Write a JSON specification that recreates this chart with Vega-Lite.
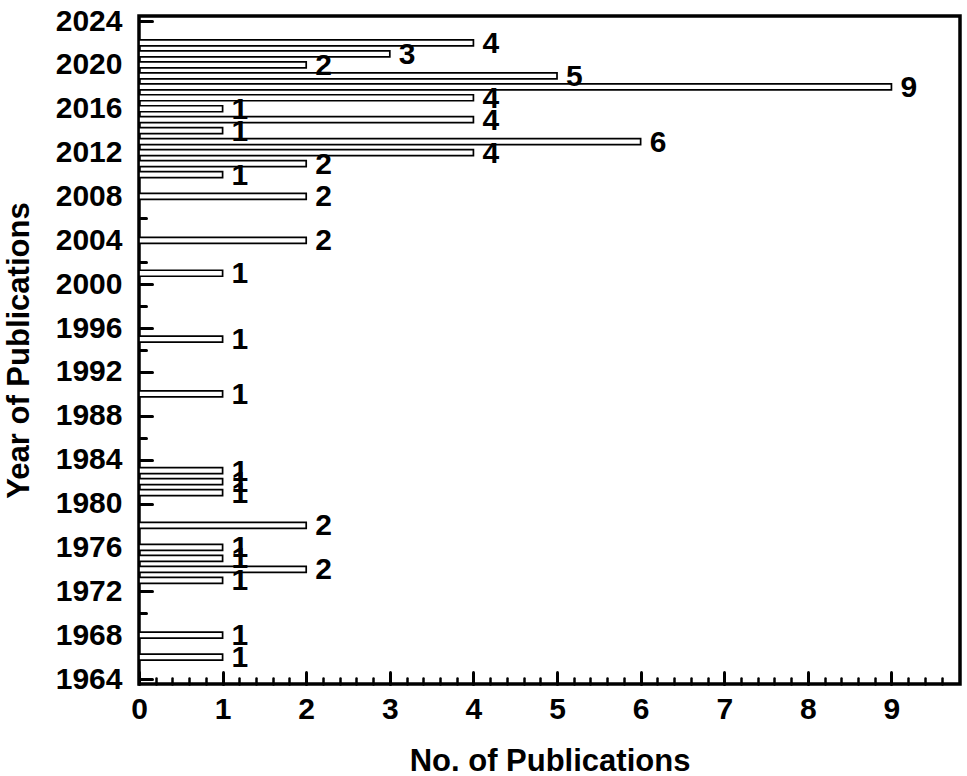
{
  "$schema": "https://vega.github.io/schema/vega-lite/v6.json",
  "autosize": "none",
  "width": 821,
  "height": 668,
  "padding": {"left": 139, "top": 16, "right": 7, "bottom": 92},
  "background": "white",
  "config": {
    "view": {"stroke": "black", "strokeWidth": 3.5},
    "font": "Liberation Sans",
    "axis": {
      "grid": false,
      "domain": false,
      "labelFlush": false,
      "tickColor": "black",
      "tickCap": "round",
      "labelColor": "black",
      "labelFont": "Liberation Sans",
      "labelFontWeight": "bold",
      "labelFontSize": 30,
      "titleColor": "black",
      "titleFont": "Liberation Sans",
      "titleFontWeight": "bold",
      "titleFontSize": 31
    }
  },
  "data": {
    "values": [
      {"year": 1966, "count": 1},
      {"year": 1968, "count": 1},
      {"year": 1973, "count": 1},
      {"year": 1974, "count": 2},
      {"year": 1975, "count": 1},
      {"year": 1976, "count": 1},
      {"year": 1978, "count": 2},
      {"year": 1981, "count": 1},
      {"year": 1982, "count": 1},
      {"year": 1983, "count": 1},
      {"year": 1990, "count": 1},
      {"year": 1995, "count": 1},
      {"year": 2001, "count": 1},
      {"year": 2004, "count": 2},
      {"year": 2008, "count": 2},
      {"year": 2010, "count": 1},
      {"year": 2011, "count": 2},
      {"year": 2012, "count": 4},
      {"year": 2013, "count": 6},
      {"year": 2014, "count": 1},
      {"year": 2015, "count": 4},
      {"year": 2016, "count": 1},
      {"year": 2017, "count": 4},
      {"year": 2018, "count": 9},
      {"year": 2019, "count": 5},
      {"year": 2020, "count": 2},
      {"year": 2021, "count": 3},
      {"year": 2022, "count": 4}
    ]
  },
  "resolve": {"axis": {"x": "independent", "y": "independent"}},
  "layer": [
    {
      "mark": {"type": "bar", "orient": "horizontal", "size": 6, "fill": "white", "stroke": "black", "strokeWidth": 1.7},
      "encoding": {
        "x": {
          "field": "count",
          "type": "quantitative",
          "scale": {"domain": [0, 9.82], "nice": false},
          "axis": {
            "orient": "bottom",
            "title": "No. of Publications",
            "values": [0, 1, 2, 3, 4, 5, 6, 7, 8, 9],
            "tickSize": -12,
            "tickWidth": 3,
            "labelPadding": 22,
            "titlePadding": 22
          }
        },
        "y": {
          "field": "year",
          "type": "quantitative",
          "scale": {"domain": [1964, 2024], "nice": false, "zero": false},
          "axis": {
            "orient": "left",
            "title": "Year of Publications",
            "format": "d",
            "values": [1964, 1968, 1972, 1976, 1980, 1984, 1988, 1992, 1996, 2000, 2004, 2008, 2012, 2016, 2020, 2024],
            "tickSize": -13,
            "tickWidth": 3,
            "labelPadding": 30,
            "titlePadding": 20
          }
        }
      }
    },
    {
      "mark": {"type": "text", "align": "left", "baseline": "middle", "dx": 9, "dy": 1, "fontSize": 30, "fontWeight": "bold", "font": "Liberation Sans", "color": "black"},
      "encoding": {
        "x": {
          "field": "count",
          "type": "quantitative",
          "axis": {
            "orient": "bottom",
            "title": null,
            "labels": false,
            "values": [0.2, 0.4, 0.6, 0.8, 1.2, 1.4, 1.6, 1.8, 2.2, 2.4, 2.6, 2.8, 3.2, 3.4, 3.6, 3.8, 4.2, 4.4, 4.6, 4.8, 5.2, 5.4, 5.6, 5.8, 6.2, 6.4, 6.6, 6.8, 7.2, 7.4, 7.6, 7.8, 8.2, 8.4, 8.6, 8.8, 9.2, 9.4, 9.6],
            "tickSize": -6,
            "tickWidth": 2.5
          }
        },
        "y": {
          "field": "year",
          "type": "quantitative",
          "axis": {
            "orient": "left",
            "title": null,
            "labels": false,
            "values": [1966, 1970, 1974, 1978, 1982, 1986, 1990, 1994, 1998, 2002, 2006, 2010, 2014, 2018, 2022],
            "tickSize": -7,
            "tickWidth": 3
          }
        },
        "text": {"field": "count", "type": "quantitative"}
      }
    }
  ]
}
